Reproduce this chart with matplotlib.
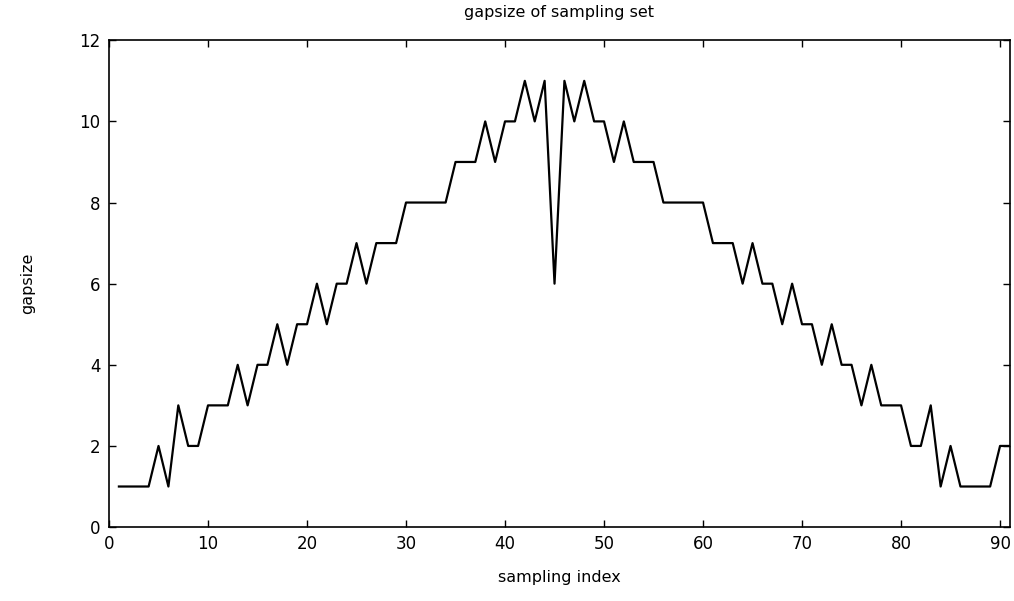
import matplotlib
matplotlib.use('Agg')
import matplotlib.pyplot as plt

# sampling index and the gap size
index = list(range(1, 92))
gapsize = [1, 1, 1, 1, 2, 1, 3, 2, 2, 3,
           3, 3, 4, 3, 4, 4, 5, 4, 5, 5,
           6, 5, 6, 6, 7, 6, 7, 7, 7, 8,
           8, 8, 8, 8, 9, 9, 9, 10, 9, 10,
           10, 11, 10, 11, 6, 11, 10, 11, 10, 10,
           9, 10, 9, 9, 9, 8, 8, 8, 8, 8,
           7, 7, 7, 6, 7, 6, 6, 5, 6, 5,
           5, 4, 5, 4, 4, 3, 4, 3, 3, 3,
           2, 2, 3, 1, 2, 1, 1, 1, 1, 2,
           2]
xticks = list(range(0, 100, 10))
yticks = list(range(0, 14, 2))

plt.rcParams['font.family'] = ['DejaVu Sans']
fig = plt.figure(figsize=(10.14, 6.01), dpi=100)
ax = fig.add_axes([0.1075, 0.123, 0.8885, 0.81])

ax.plot(index, gapsize, color='black', linewidth=1.6)

ax.set_xlim(0, 91)
ax.set_ylim(0, 12)
ax.set_xticks(xticks)
ax.set_yticks(yticks)
ax.tick_params(direction='in', length=5, width=1, top=True, right=True,
               labelsize=12, pad=6)
for s in ax.spines.values():
    s.set_linewidth(1.2)

ax.set_title('gapsize of sampling set', fontsize=11.5, pad=17)
ax.set_xlabel('sampling index', fontsize=11.5, labelpad=12)
ax.set_ylabel('gapsize', fontsize=11.5, labelpad=32)

fig.savefig('out.png', dpi=100)
